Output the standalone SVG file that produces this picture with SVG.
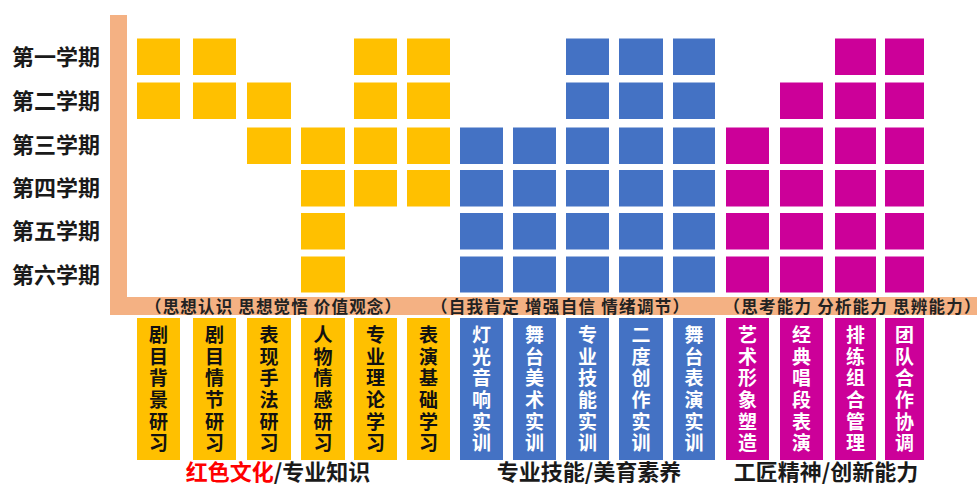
<svg xmlns="http://www.w3.org/2000/svg" width="979" height="484" viewBox="0 0 979 484">
<style>
text{font-family:"Noto Sans CJK SC","Microsoft YaHei",sans-serif;font-weight:bold}
.y{fill:#FFC000}.b{fill:#4472C4}.m{fill:#CC0099}
.sem{font-size:22px;fill:#1a1a1a}
.hd{font-size:16.5px;fill:#222;text-anchor:middle}
.v{font-size:19px;text-anchor:middle}
.vy{fill:#111}.vw{fill:#fff}
.cap{font-size:22px;fill:#1a1a1a;text-anchor:middle}
</style>
<rect width="979" height="484" fill="#fff"/>
<g id="axis">
<rect x="110" y="15" width="17" height="300" fill="#F4B183"/>
<rect x="110" y="297" width="867" height="18" fill="#F4B183"/>
</g>
<g id="semesters">
<text class="sem" x="12" y="64.5">第一学期</text>
<text class="sem" x="12" y="108.5">第二学期</text>
<text class="sem" x="12" y="153">第三学期</text>
<text class="sem" x="12" y="196">第四学期</text>
<text class="sem" x="12" y="239">第五学期</text>
<text class="sem" x="12" y="282.5">第六学期</text>
</g>
<g id="headers">
<text class="hd" x="273" y="312.5" textLength="256" lengthAdjust="spacing">（思想认识 思想觉悟 价值观念）</text>
<text class="hd" x="560" y="312.5" textLength="258" lengthAdjust="spacing">（自我肯定 增强自信 情绪调节）</text>
<text class="hd" x="852" y="312.5" textLength="257" lengthAdjust="spacing">（思考能力 分析能力 思辨能力）</text>
</g>
<g id="connectors"></g>
<g id="c1" class="y">
<rect x="137" y="38.5" width="43" height="36.5"/><rect x="137" y="82.5" width="43" height="36.5"/>
<rect x="137" y="318" width="43" height="142"/>
<text class="v vy"><tspan x="158.5" y="342">剧</tspan><tspan x="158.5" y="364">目</tspan><tspan x="158.5" y="385">背</tspan><tspan x="158.5" y="407">景</tspan><tspan x="158.5" y="429">研</tspan><tspan x="158.5" y="450">习</tspan></text>
</g>
<g id="c2" class="y">
<rect x="193" y="38.5" width="43" height="36.5"/><rect x="193" y="82.5" width="43" height="36.5"/>
<rect x="193" y="318" width="43" height="142"/>
<text class="v vy"><tspan x="214.5" y="342">剧</tspan><tspan x="214.5" y="364">目</tspan><tspan x="214.5" y="385">情</tspan><tspan x="214.5" y="407">节</tspan><tspan x="214.5" y="429">研</tspan><tspan x="214.5" y="450">习</tspan></text>
</g>
<g id="c3" class="y">
<rect x="247" y="82.5" width="44" height="36.5"/><rect x="247" y="127.5" width="44" height="36.5"/>
<rect x="247" y="318" width="44" height="142"/>
<text class="v vy"><tspan x="269" y="342">表</tspan><tspan x="269" y="364">现</tspan><tspan x="269" y="385">手</tspan><tspan x="269" y="407">法</tspan><tspan x="269" y="429">研</tspan><tspan x="269" y="450">习</tspan></text>
</g>
<g id="c4" class="y">
<rect x="301" y="127.5" width="44" height="36.5"/><rect x="301" y="170" width="44" height="36.5"/><rect x="301" y="213" width="44" height="36.5"/><rect x="301" y="256.5" width="44" height="36"/>
<rect x="301" y="318" width="44" height="142"/>
<text class="v vy"><tspan x="323" y="342">人</tspan><tspan x="323" y="364">物</tspan><tspan x="323" y="385">情</tspan><tspan x="323" y="407">感</tspan><tspan x="323" y="429">研</tspan><tspan x="323" y="450">习</tspan></text>
</g>
<g id="c5" class="y">
<rect x="354" y="38.5" width="43" height="36.5"/><rect x="354" y="82.5" width="43" height="36.5"/><rect x="354" y="127.5" width="43" height="36.5"/><rect x="354" y="170" width="43" height="36.5"/>
<rect x="354" y="318" width="43" height="142"/>
<text class="v vy"><tspan x="375.5" y="342">专</tspan><tspan x="375.5" y="364">业</tspan><tspan x="375.5" y="385">理</tspan><tspan x="375.5" y="407">论</tspan><tspan x="375.5" y="429">学</tspan><tspan x="375.5" y="450">习</tspan></text>
</g>
<g id="c6" class="y">
<rect x="407" y="38.5" width="43" height="36.5"/><rect x="407" y="82.5" width="43" height="36.5"/><rect x="407" y="127.5" width="43" height="36.5"/><rect x="407" y="170" width="43" height="36.5"/>
<rect x="407" y="318" width="43" height="142"/>
<text class="v vy"><tspan x="428.5" y="342">表</tspan><tspan x="428.5" y="364">演</tspan><tspan x="428.5" y="385">基</tspan><tspan x="428.5" y="407">础</tspan><tspan x="428.5" y="429">学</tspan><tspan x="428.5" y="450">习</tspan></text>
</g>
<g id="c7" class="b">
<rect x="460" y="127.5" width="43" height="36.5"/><rect x="460" y="170" width="43" height="36.5"/><rect x="460" y="213" width="43" height="36.5"/><rect x="460" y="256.5" width="43" height="36"/>
<rect x="460" y="318" width="43" height="142"/>
<text class="v vw"><tspan x="481.5" y="342">灯</tspan><tspan x="481.5" y="364">光</tspan><tspan x="481.5" y="385">音</tspan><tspan x="481.5" y="407">响</tspan><tspan x="481.5" y="429">实</tspan><tspan x="481.5" y="450">训</tspan></text>
</g>
<g id="c8" class="b">
<rect x="513" y="127.5" width="43" height="36.5"/><rect x="513" y="170" width="43" height="36.5"/><rect x="513" y="213" width="43" height="36.5"/><rect x="513" y="256.5" width="43" height="36"/>
<rect x="513" y="318" width="43" height="142"/>
<text class="v vw"><tspan x="534.5" y="342">舞</tspan><tspan x="534.5" y="364">台</tspan><tspan x="534.5" y="385">美</tspan><tspan x="534.5" y="407">术</tspan><tspan x="534.5" y="429">实</tspan><tspan x="534.5" y="450">训</tspan></text>
</g>
<g id="c9" class="b">
<rect x="566" y="38.5" width="43" height="36.5"/><rect x="566" y="82.5" width="43" height="36.5"/><rect x="566" y="127.5" width="43" height="36.5"/><rect x="566" y="170" width="43" height="36.5"/><rect x="566" y="213" width="43" height="36.5"/><rect x="566" y="256.5" width="43" height="36"/>
<rect x="566" y="318" width="43" height="142"/>
<text class="v vw"><tspan x="587.5" y="342">专</tspan><tspan x="587.5" y="364">业</tspan><tspan x="587.5" y="385">技</tspan><tspan x="587.5" y="407">能</tspan><tspan x="587.5" y="429">实</tspan><tspan x="587.5" y="450">训</tspan></text>
</g>
<g id="c10" class="b">
<rect x="619" y="38.5" width="44" height="36.5"/><rect x="619" y="82.5" width="44" height="36.5"/><rect x="619" y="127.5" width="44" height="36.5"/><rect x="619" y="170" width="44" height="36.5"/><rect x="619" y="213" width="44" height="36.5"/><rect x="619" y="256.5" width="44" height="36"/>
<rect x="619" y="318" width="44" height="142"/>
<text class="v vw"><tspan x="641" y="342">二</tspan><tspan x="641" y="364">度</tspan><tspan x="641" y="385">创</tspan><tspan x="641" y="407">作</tspan><tspan x="641" y="429">实</tspan><tspan x="641" y="450">训</tspan></text>
</g>
<g id="c11" class="b">
<rect x="673" y="38.5" width="42" height="36.5"/><rect x="673" y="82.5" width="42" height="36.5"/><rect x="673" y="127.5" width="42" height="36.5"/><rect x="673" y="170" width="42" height="36.5"/><rect x="673" y="213" width="42" height="36.5"/><rect x="673" y="256.5" width="42" height="36"/>
<rect x="673" y="318" width="42" height="142"/>
<text class="v vw"><tspan x="694" y="342">舞</tspan><tspan x="694" y="364">台</tspan><tspan x="694" y="385">表</tspan><tspan x="694" y="407">演</tspan><tspan x="694" y="429">实</tspan><tspan x="694" y="450">训</tspan></text>
</g>
<g id="c12" class="m">
<rect x="726" y="127.5" width="43" height="36.5"/><rect x="726" y="170" width="43" height="36.5"/><rect x="726" y="213" width="43" height="36.5"/><rect x="726" y="256.5" width="43" height="36"/>
<rect x="726" y="318" width="43" height="142"/>
<text class="v vw"><tspan x="747.5" y="342">艺</tspan><tspan x="747.5" y="364">术</tspan><tspan x="747.5" y="385">形</tspan><tspan x="747.5" y="407">象</tspan><tspan x="747.5" y="429">塑</tspan><tspan x="747.5" y="450">造</tspan></text>
</g>
<g id="c13" class="m">
<rect x="780" y="82.5" width="43" height="36.5"/><rect x="780" y="127.5" width="43" height="36.5"/><rect x="780" y="170" width="43" height="36.5"/><rect x="780" y="213" width="43" height="36.5"/><rect x="780" y="256.5" width="43" height="36"/>
<rect x="780" y="318" width="43" height="142"/>
<text class="v vw"><tspan x="801.5" y="342">经</tspan><tspan x="801.5" y="364">典</tspan><tspan x="801.5" y="385">唱</tspan><tspan x="801.5" y="407">段</tspan><tspan x="801.5" y="429">表</tspan><tspan x="801.5" y="450">演</tspan></text>
</g>
<g id="c14" class="m">
<rect x="835" y="38.5" width="41" height="36.5"/><rect x="835" y="82.5" width="41" height="36.5"/><rect x="835" y="127.5" width="41" height="36.5"/><rect x="835" y="170" width="41" height="36.5"/><rect x="835" y="213" width="41" height="36.5"/><rect x="835" y="256.5" width="41" height="36"/>
<rect x="835" y="318" width="41" height="142"/>
<text class="v vw"><tspan x="855.5" y="342">排</tspan><tspan x="855.5" y="364">练</tspan><tspan x="855.5" y="385">组</tspan><tspan x="855.5" y="407">合</tspan><tspan x="855.5" y="429">管</tspan><tspan x="855.5" y="450">理</tspan></text>
</g>
<g id="c15" class="m">
<rect x="885" y="38.5" width="39" height="36.5"/><rect x="885" y="82.5" width="39" height="36.5"/><rect x="885" y="127.5" width="39" height="36.5"/><rect x="885" y="170" width="39" height="36.5"/><rect x="885" y="213" width="39" height="36.5"/><rect x="885" y="256.5" width="39" height="36"/>
<rect x="885" y="318" width="39" height="142"/>
<text class="v vw"><tspan x="904.5" y="342">团</tspan><tspan x="904.5" y="364">队</tspan><tspan x="904.5" y="385">合</tspan><tspan x="904.5" y="407">作</tspan><tspan x="904.5" y="429">协</tspan><tspan x="904.5" y="450">调</tspan></text>
</g>
<g id="captions">
<text class="cap" x="278" y="480"><tspan fill="#FF0000">红色文化</tspan>/专业知识</text>
<text class="cap" x="589" y="480">专业技能/美育素养</text>
<text class="cap" x="826" y="480">工匠精神/创新能力</text>
</g>
</svg>
